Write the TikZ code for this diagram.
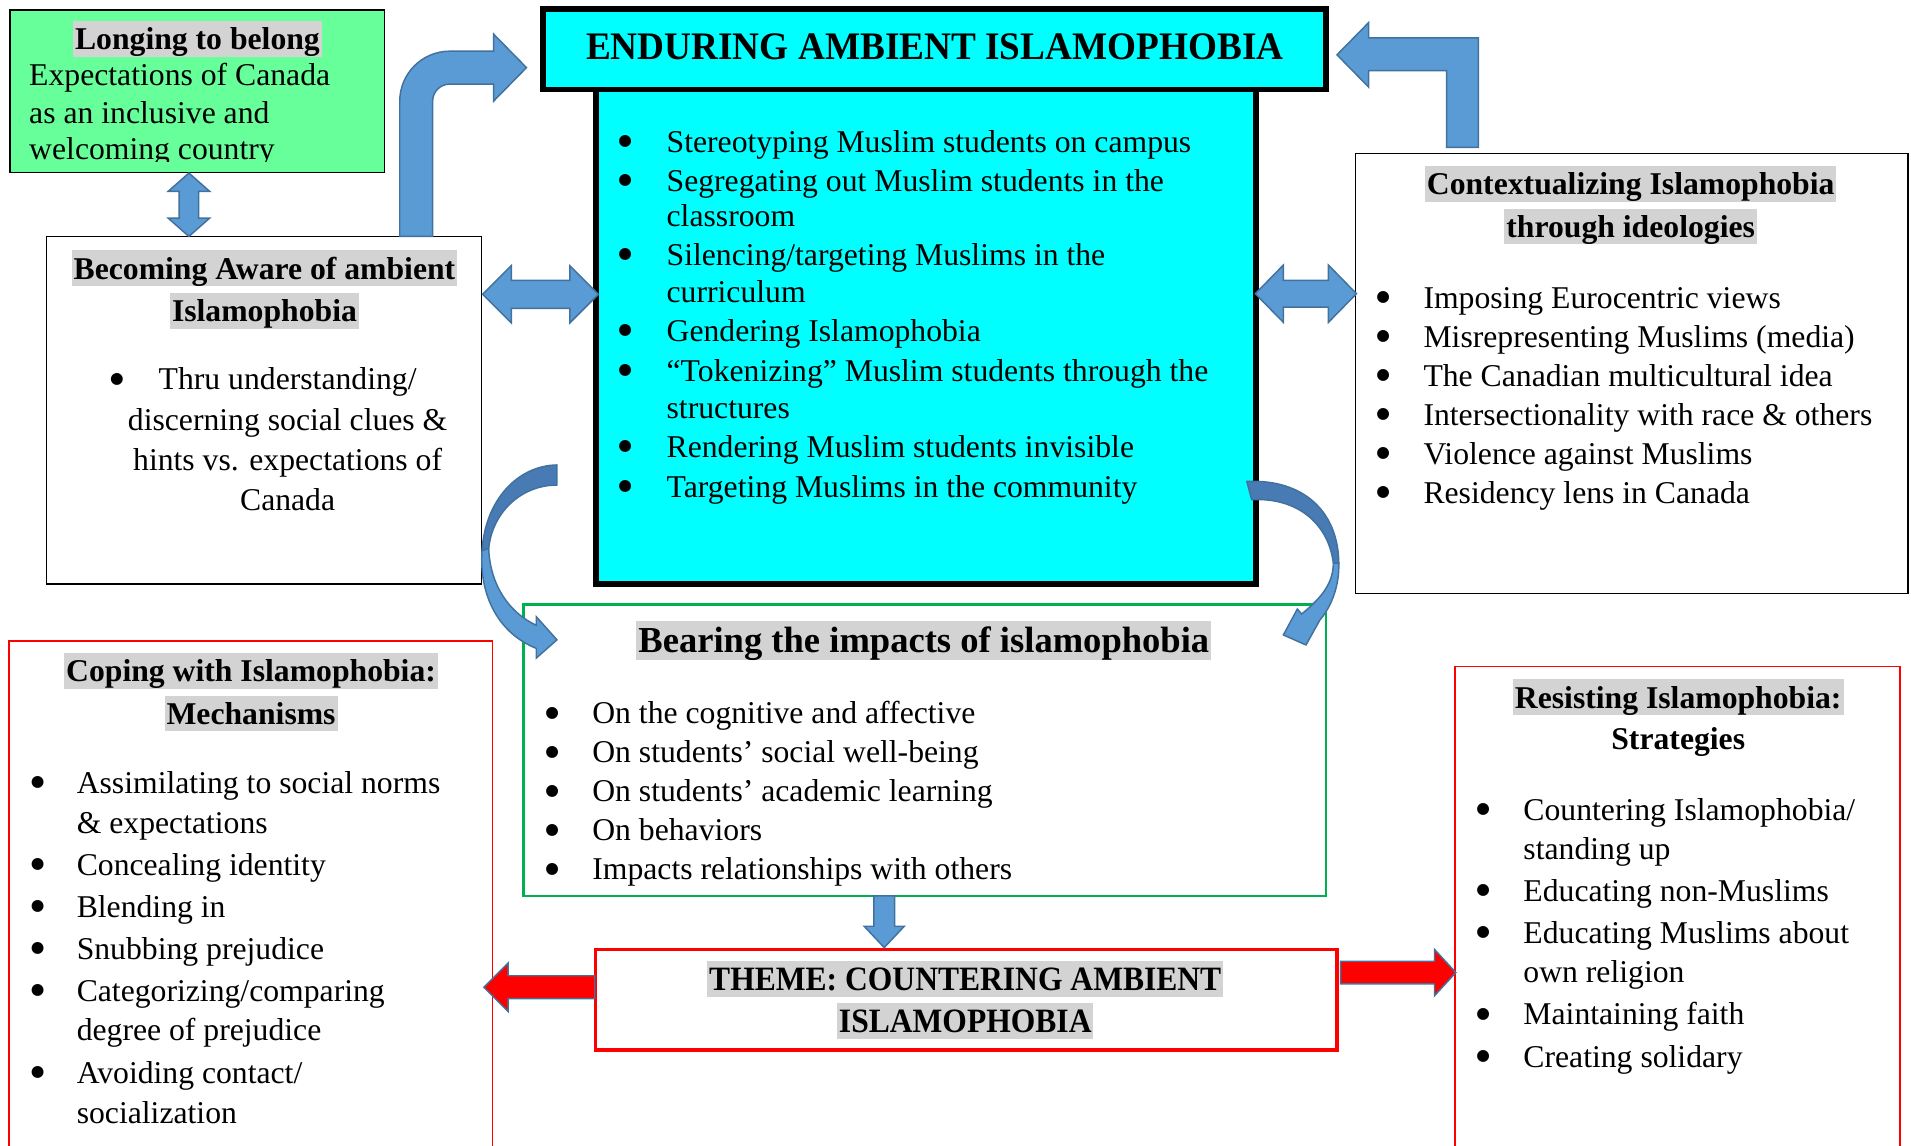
\documentclass[tikz,border=0pt]{standalone}
\usepackage{fontspec}
\setmainfont{Liberation Serif}
\newfontfamily\bulletfont{DejaVu Sans}
\usepackage{graphicx}
\usetikzlibrary{fit}

\definecolor{cyanfill}{RGB}{0,255,255}
\definecolor{greenfill}{RGB}{102,255,153}
\definecolor{hlgray}{RGB}{211,211,211}
\definecolor{arrowfill}{RGB}{91,155,213}
\definecolor{arrowdark}{RGB}{72,122,180}
\definecolor{arrowline}{RGB}{65,113,156}
\definecolor{boxgreen}{RGB}{0,176,80}

\begin{document}
\begin{tikzpicture}[x=0.5pt,y=-0.5pt,
  every node/.style={inner sep=0pt, outer sep=0pt},
  frame/.style={draw, line width=0.6pt},
  body/.style={anchor=base west, font=\fontsize{13}{15}\selectfont},
  bodyc/.style={anchor=base, font=\fontsize{13}{15}\selectfont},
  dot/.style={anchor=center, font=\bulletfont\fontsize{6.4}{7}\selectfont},
  title/.style={anchor=base, font=\fontsize{13}{15}\selectfont\bfseries,
    fill=hlgray, text height=11.8pt, text depth=2.8pt, inner xsep=0.8pt},
  plaintitle/.style={anchor=base, font=\fontsize{13}{15}\selectfont\bfseries},
  blockarrow/.style={fill=arrowfill, draw=arrowline, line width=0.6pt, line join=miter},
  backface/.style={fill=arrowdark, draw=arrowline, line width=0.6pt, line join=round},
  redarrow/.style={fill=red, draw=arrowline, line width=0.6pt, line join=miter},
]

\useasboundingbox (0,0) rectangle (1568,940);
\clip (0,0) rectangle (1568,940);

% ---------- boxes ----------
\node[frame, fill=greenfill, fit={(8.3,8.3) (315.7,141.7)}] (belong) {};
\node[frame, fit={(38,194) (395,479)}] (aware) {};
\node[draw, line width=2.5pt, fill=cyanfill, fit={(488.8,73) (1030.8,479)}] (enduring) {};
\node[draw, line width=2.3pt, fill=cyanfill, fit={(445.4,7.5) (1088.2,73.4)}] (endtitle) {};
\node[frame, fit={(1112,126) (1565.5,487)}] (context) {};
\node[draw=boxgreen, line width=1pt, fit={(429.5,496) (1088,735)}] (impact) {};
\node[draw=red, line width=1.3pt, fit={(488.5,779) (1097,861.5)}] (theme) {};
\node[draw=red, line width=0.6pt, fit={(7.5,526) (404,960)}] (coping) {};
\node[draw=red, line width=0.6pt, fit={(1194,547) (1559,960)}] (resist) {};

% ---------- Longing to belong ----------
\node[title] (belong-t) at (162,41) {Longing to belong};
\begin{scope}
  \clip (8,8) rectangle (316,132.5);
  \node[body] (belong-1) at (24,70.5) {Expectations of Canada};
  \node[body] (belong-2) at (24,101) {as an inclusive and};
  \node[body] (belong-3) at (24,131) {welcoming country};
\end{scope}

% ---------- Becoming aware ----------
\node[title] (aware-t1) at (217,229) {Becoming Aware of ambient};
\node[title] (aware-t2) at (217,264) {Islamophobia};
\node[dot] (aware-dot) at (96,311) {●};
\foreach \yy/\tx [count=\k] in {320/{Thru understanding/}, 353/{discerning social clues \&},
    386/{hints vs. expectations of}, 419/{Canada}}
  \node[bodyc] (aware-\k) at (236,\yy) {\tx};

% ---------- Enduring ambient Islamophobia ----------
\node[plaintitle, font=\fontsize{16}{18}\selectfont\bfseries] (endtitle-t) at (767,48.5)
  {\scalebox{0.955}[1]{ENDURING AMBIENT ISLAMOPHOBIA}};
\foreach \yy/\tx [count=\k] in {
    125/{Stereotyping Muslim students on campus},
    157/{Segregating out Muslim students in the},
    186/{classroom},
    218/{Silencing/targeting Muslims in the},
    248/{curriculum},
    280/{Gendering Islamophobia},
    313/{“Tokenizing” Muslim students through the},
    343/{structures},
    375/{Rendering Muslim students invisible},
    408/{Targeting Muslims in the community}}
  \node[body] (enduring-\k) at (547,\yy) {\tx};
\foreach \yy [count=\k] in {125,157,218,280,313,375,408}
  \node[dot] (enduring-dot\k) at (513,\yy-9) {●};

% ---------- Contextualizing ----------
\node[title] (context-t1) at (1338,160) {Contextualizing Islamophobia};
\node[title] (context-t2) at (1338,195) {through ideologies};
\foreach \yy/\tx [count=\k] in {
    253/{Imposing Eurocentric views},
    285/{Misrepresenting Muslims (media)},
    317/{The Canadian multicultural idea},
    349/{Intersectionality with race \& others},
    381/{Violence against Muslims},
    413/{Residency lens in Canada}} {
  \node[body] (context-\k) at (1168,\yy) {\tx};
  \node[dot] (context-dot\k) at (1135,\yy-9) {●};
}

% ---------- Bearing the impacts ----------
\node[title, font=\fontsize{15}{17}\selectfont\bfseries, text height=12.6pt, text depth=3.3pt]
  (impact-t) at (758,535) {Bearing the impacts of islamophobia};
\foreach \yy/\tx [count=\k] in {
    594/{On the cognitive and affective},
    626/{On students’ social well-being},
    658/{On students’ academic learning},
    690/{On behaviors},
    722/{Impacts relationships with others}} {
  \node[body] (impact-\k) at (486,\yy) {\tx};
  \node[dot] (impact-dot\k) at (453,\yy-9) {●};
}

% ---------- Theme ----------
\node[title, font=\fontsize{14}{16}\selectfont\bfseries, text height=12.2pt, text depth=2.6pt]
  (theme-t1) at (792,813) {\scalebox{0.925}[1]{THEME: COUNTERING AMBIENT}};
\node[title, font=\fontsize{14}{16}\selectfont\bfseries, text height=12.2pt, text depth=2.6pt]
  (theme-t2) at (792,847) {\scalebox{0.925}[1]{ISLAMOPHOBIA}};

% ---------- Coping ----------
\node[title] (coping-t1) at (206,559.5) {Coping with Islamophobia:};
\node[title] (coping-t2) at (206,594.5) {Mechanisms};
\foreach \yy/\tx [count=\k] in {
    651/{Assimilating to social norms},
    684/{\& expectations},
    718/{Concealing identity},
    753/{Blending in},
    787/{Snubbing prejudice},
    822/{Categorizing/comparing},
    854/{degree of prejudice},
    889/{Avoiding contact/},
    922/{socialization}}
  \node[body] (coping-\k) at (63,\yy) {\tx};
\foreach \yy [count=\k] in {651,718,753,787,822,889}
  \node[dot] (coping-dot\k) at (31,\yy-9) {●};

% ---------- Resisting ----------
\node[title] (resist-t1) at (1377,581) {Resisting Islamophobia:};
\node[plaintitle] (resist-t2) at (1377,615) {Strategies};
\foreach \yy/\tx [count=\k] in {
    673/{Countering Islamophobia/},
    705/{standing up},
    740/{Educating non-Muslims},
    774/{Educating Muslims about},
    806/{own religion},
    841/{Maintaining faith},
    876/{Creating solidary}}
  \node[body] (resist-\k) at (1250,\yy) {\tx};
\foreach \yy [count=\k] in {673,740,774,841,876}
  \node[dot] (resist-dot\k) at (1217,\yy-9) {●};

% ---------- block arrows ----------
% belong <-> aware
\path[blockarrow] (155,142) -- (172,157) -- (163,157) -- (163,179) -- (172,179) -- (155,194)
  -- (138,179) -- (147,179) -- (147,157) -- (138,157) -- cycle;
% aware <-> enduring
\path[blockarrow] (396,241.5) -- (419.5,218) -- (419.5,230) -- (467.5,230) -- (467.5,218)
  -- (491,241.5) -- (467.5,265) -- (467.5,253) -- (419.5,253) -- (419.5,265) -- cycle;
% enduring <-> context
\path[blockarrow] (1030,241) -- (1053,217.5) -- (1053,230) -- (1090,230) -- (1090,217.5)
  -- (1113,241) -- (1090,264.5) -- (1090,252) -- (1053,252) -- (1053,264.5) -- cycle;
% aware -> enduring title (bent up and right)
\path[blockarrow] (328,194) -- (328,83) .. controls (328,60.4) and (346.4,42) .. (369,42)
  -- (405,42) -- (405,28) -- (432,55.5) -- (405,83) -- (405,69) -- (369,69)
  .. controls (361.3,69) and (355,75.3) .. (355,83) -- (355,194) -- cycle;
% context -> enduring title (bent up and left)
\path[blockarrow] (1187,121) -- (1187,58) -- (1123,58) -- (1123,71.5) -- (1097,45)
  -- (1123,18.5) -- (1123,31) -- (1213,31) -- (1213,121) -- cycle;
% impact -> theme
\path[blockarrow] (717,735) -- (734,735) -- (734,760) -- (742,760) -- (725.5,777.5)
  -- (709,760) -- (717,760) -- cycle;
% theme -> coping, theme -> resist
\path[redarrow] (488,800.6) -- (417,800.6) -- (417,790) -- (397,810) -- (417,830)
  -- (417,819.4) -- (488,819.4) -- cycle;
\path[redarrow] (1100,788.7) -- (1177,788.7) -- (1177,779) -- (1194.5,798) -- (1177,817)
  -- (1177,807.3) -- (1100,807.3) -- cycle;

% enduring -> impact, curved on the left
\path[backface] (457,381.5) .. controls (425,382) and (398,410) .. (395.5,452)
  -- (401,450) .. controls (404,420) and (428,398) .. (457,398) -- cycle;
\path[blockarrow] (395.5,452) .. controls (393,490) and (410,520) .. (440,532)
  -- (440,540) -- (457,525) -- (440,506) -- (440,513)
  .. controls (418,503) and (402,480) .. (401,450) -- cycle;

% enduring -> impact, curved on the right
\path[backface] (1023,395) .. controls (1070,393) and (1098,420) .. (1098.5,462)
  -- (1094,462) .. controls (1090,430) and (1065,408) .. (1027,410) -- cycle;
\path[blockarrow] (1098.5,462) .. controls (1099,480) and (1093,497) .. (1083,508.7)
  -- (1071.6,529.2) -- (1053,521) -- (1064.5,499.7) -- (1068,503.8)
  .. controls (1085,490) and (1094,478) .. (1094,462) -- cycle;

\end{tikzpicture}
\end{document}
